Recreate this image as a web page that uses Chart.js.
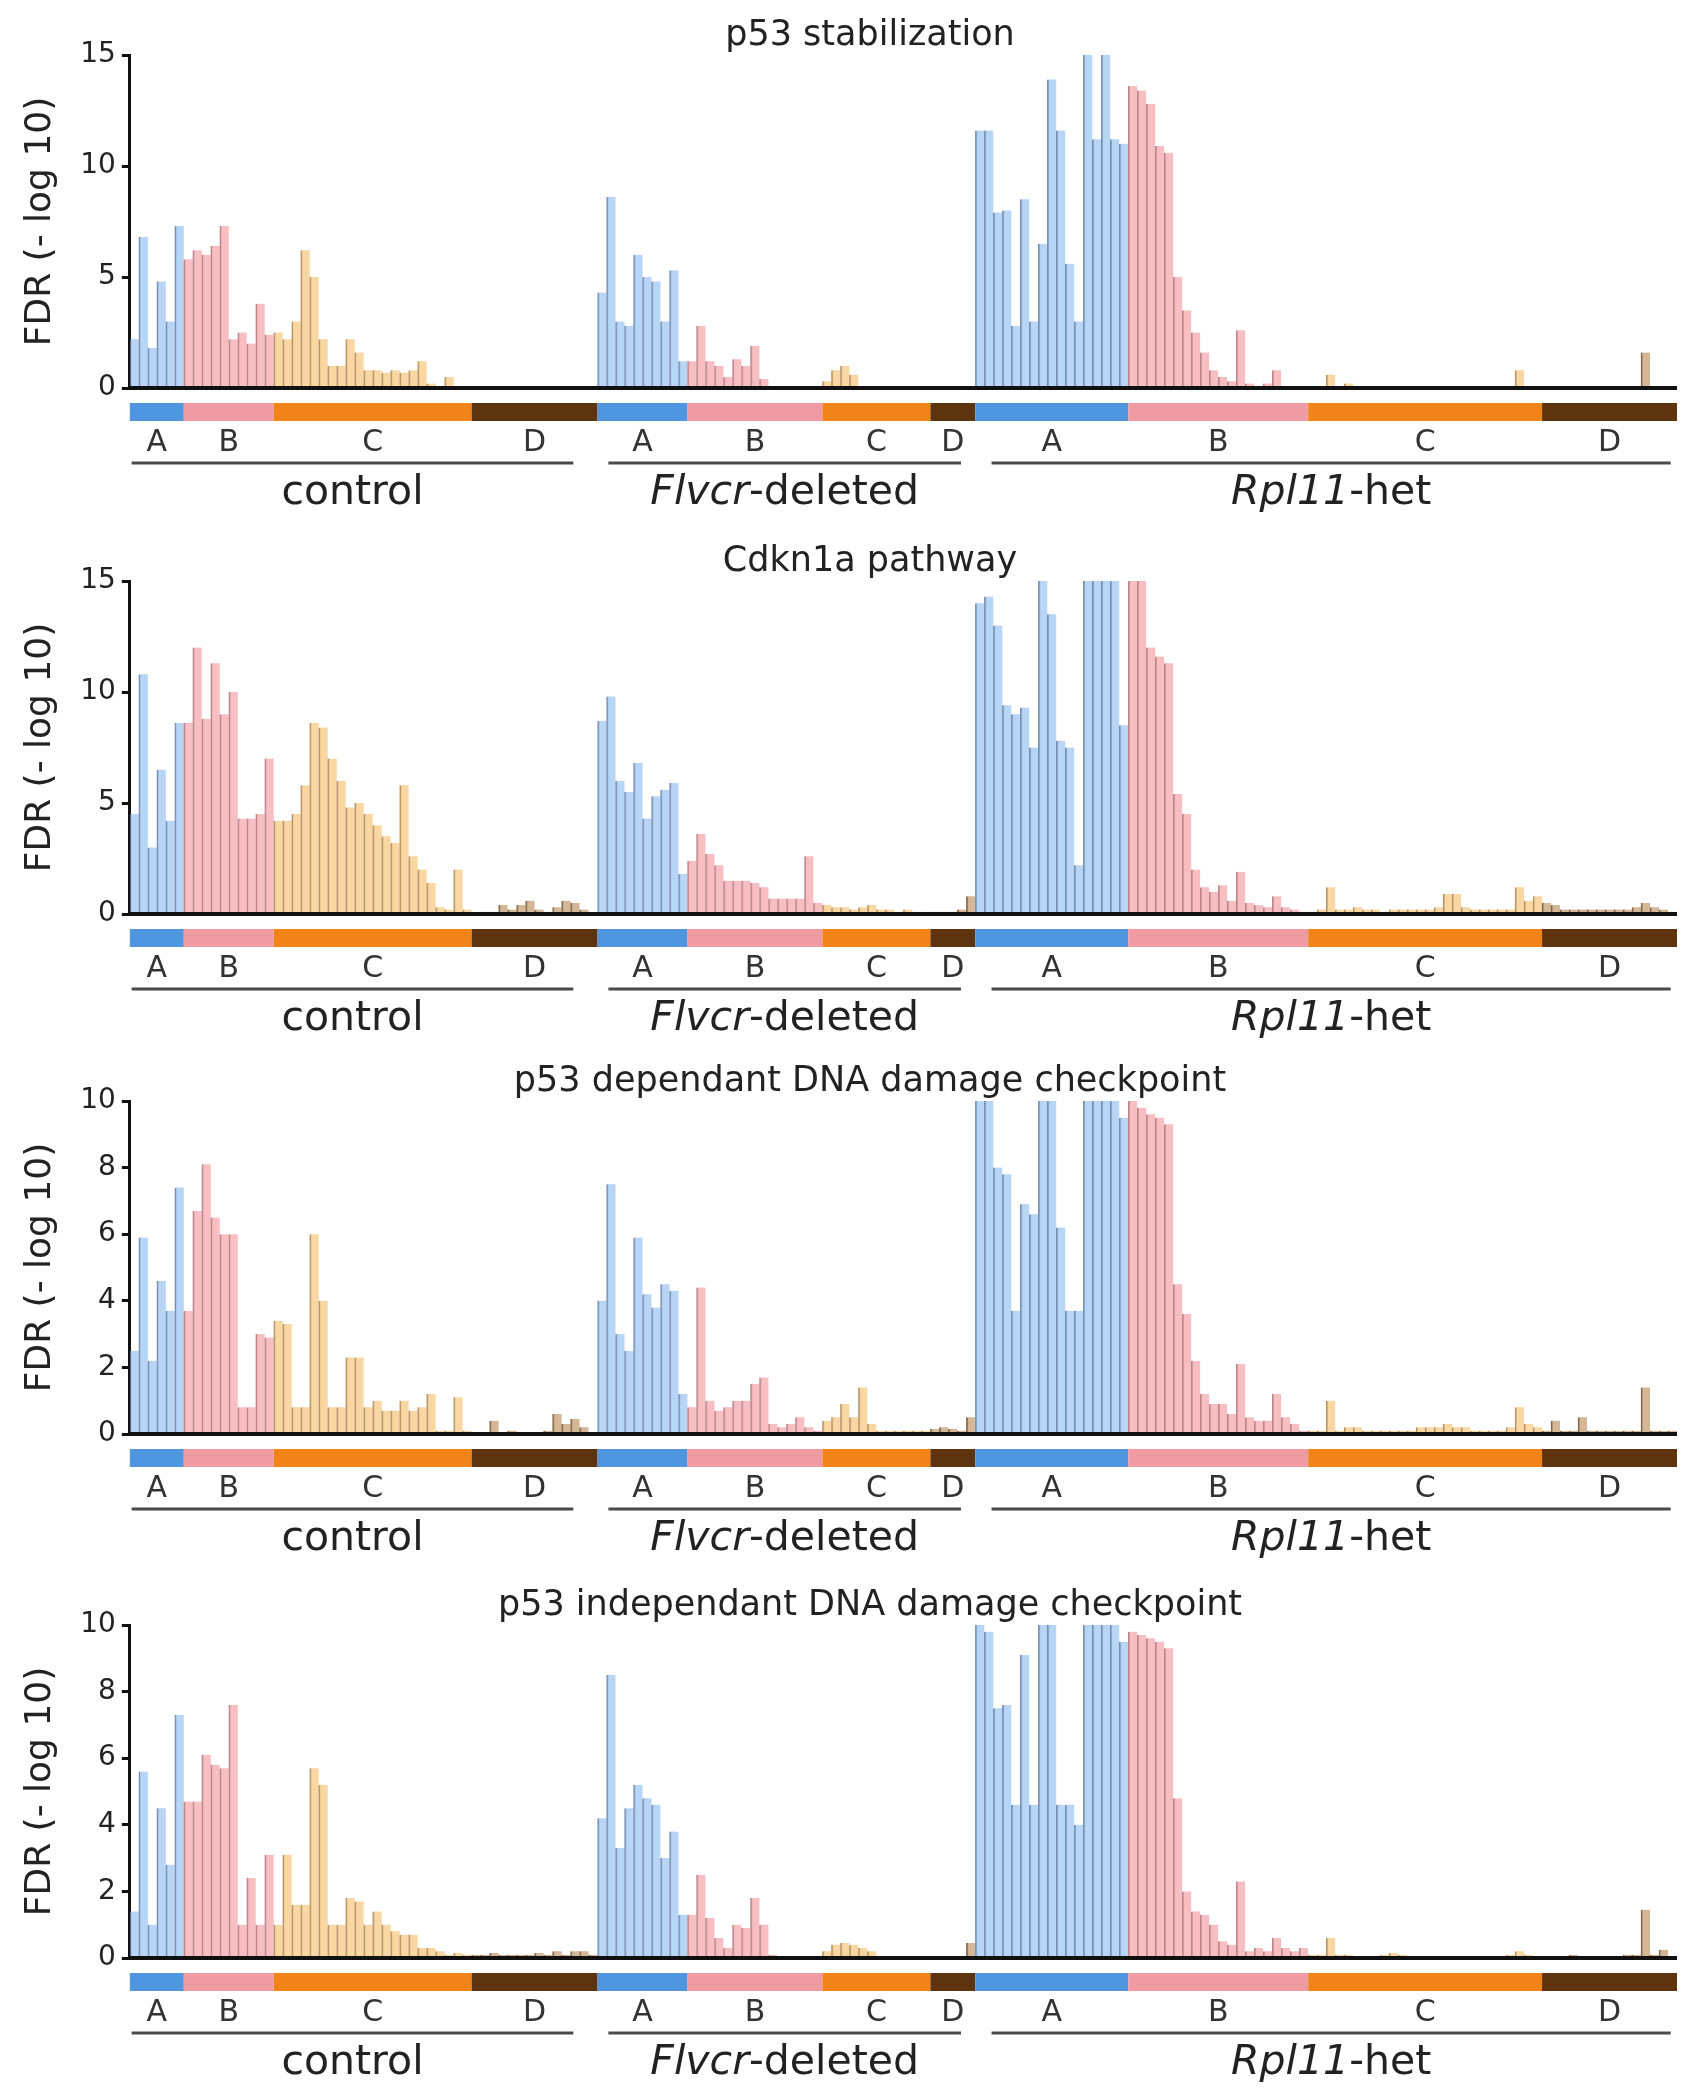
<!DOCTYPE html>
<html>
<head>
<meta charset="utf-8">
<script src="https://cdn.jsdelivr.net/npm/chart.js@4.4.1/dist/chart.umd.min.js"></script>
<style>
  body { margin: 0; background: #fff; }
  #wrap { position: relative; width: 1695px; height: 2100px; }
  canvas { position: absolute; left: 0; }
</style>
</head>
<body>
<div id="wrap">
  <canvas id="c0" width="1695" height="525" style="top:0px"></canvas>
  <canvas id="c1" width="1695" height="525" style="top:526px"></canvas>
  <canvas id="c2" width="1695" height="525" style="top:1046px"></canvas>
  <canvas id="c3" width="1695" height="525" style="top:1570px"></canvas>
</div>
<script>
// groups and conditions
const groupNames = ['A', 'B', 'C', 'D'];
const controlSizes = [6, 10, 22, 14];
const flvcrSizes = [10, 15, 12, 5];
const rplSizes = [17, 20, 26, 15];

const panelTitles = [
  'p53 stabilization',
  'Cdkn1a pathway',
  'p53 dependant DNA damage checkpoint',
  'p53 independant DNA damage checkpoint'
];
const panelMax = [15, 15, 10, 10];
const panelStep = [5, 5, 2, 2];

// p53 stabilization
const stabControl = [
  2.2, 6.8, 1.8, 4.8, 3.0, 7.3,
  5.8, 6.2, 6.0, 6.4, 7.3, 2.2, 2.5, 2.0, 3.8, 2.4,
  2.5, 2.2, 3.0, 6.2, 5.0, 2.2, 1.0, 1.0, 2.2, 1.6, 0.8, 0.8, 0.7, 0.8, 0.7, 0.8, 1.2, 0.2, 0.1, 0.5, 0.05, 0,
  0, 0, 0, 0, 0, 0, 0, 0, 0, 0, 0, 0, 0, 0
];
const stabFlvcr = [
  4.3, 8.6, 3.0, 2.8, 6.0, 5.0, 4.8, 3.0, 5.3, 1.2,
  1.2, 2.8, 1.2, 1.0, 0.5, 1.3, 1.0, 1.9, 0.4, 0, 0, 0, 0, 0, 0,
  0.3, 0.8, 1.0, 0.6, 0, 0, 0, 0, 0, 0, 0, 0,
  0, 0, 0, 0.1, 0
];
const stabRpl = [
  11.6, 11.6, 7.9, 8.0, 2.8, 8.5, 3.0, 6.5, 13.9, 11.6, 5.6, 3.0, 15.0, 11.2, 15.0, 11.2, 11.0,
  13.6, 13.4, 12.8, 10.9, 10.6, 5.0, 3.5, 2.5, 1.6, 0.8, 0.5, 0.3, 2.6, 0.2, 0.1, 0.2, 0.8, 0, 0, 0,
  0, 0, 0.6, 0, 0.2, 0, 0, 0, 0, 0, 0, 0, 0, 0, 0, 0, 0, 0, 0, 0, 0, 0, 0, 0.8, 0, 0,
  0, 0, 0, 0, 0, 0, 0, 0, 0, 0, 0, 1.6, 0, 0, 0
];

// Cdkn1a pathway
const cdknControl = [
  4.5, 10.8, 3.0, 6.5, 4.2, 8.6,
  8.6, 12.0, 8.8, 11.3, 9.0, 10.0, 4.3, 4.3, 4.5, 7.0,
  4.2, 4.2, 4.5, 5.8, 8.6, 8.4, 7.0, 6.0, 4.8, 5.0, 4.5, 4.0, 3.5, 3.2, 5.8, 2.6, 2.0, 1.4, 0.3, 0.2, 2.0, 0.2,
  0, 0.1, 0.1, 0.4, 0.2, 0.4, 0.6, 0.2, 0.1, 0.3, 0.6, 0.5, 0.2, 0
];
const cdknFlvcr = [
  8.7, 9.8, 6.0, 5.5, 6.8, 4.3, 5.3, 5.6, 5.9, 1.8,
  2.4, 3.6, 2.7, 2.2, 1.5, 1.5, 1.5, 1.4, 1.2, 0.7, 0.7, 0.7, 0.7, 2.6, 0.5,
  0.4, 0.3, 0.3, 0.2, 0.3, 0.4, 0.2, 0.2, 0.1, 0.2, 0.1, 0.1,
  0.1, 0.1, 0.1, 0.2, 0.8
];
const cdknRpl = [
  14.0, 14.3, 13.0, 9.4, 9.0, 9.3, 7.5, 15.0, 13.5, 7.8, 7.5, 2.2, 15.0, 15.0, 15.0, 15.0, 8.5,
  15.0, 15.0, 12.0, 11.6, 11.3, 5.4, 4.5, 2.0, 1.2, 1.0, 1.3, 0.6, 1.9, 0.5, 0.4, 0.3, 0.8, 0.3, 0.2, 0.1,
  0.1, 0.2, 1.2, 0.2, 0.2, 0.3, 0.2, 0.2, 0.1, 0.2, 0.2, 0.2, 0.2, 0.2, 0.3, 0.9, 0.9, 0.3, 0.2, 0.2, 0.2, 0.2, 0.2, 1.2, 0.6, 0.8,
  0.5, 0.4, 0.2, 0.2, 0.2, 0.2, 0.2, 0.2, 0.2, 0.2, 0.3, 0.5, 0.3, 0.2, 0.1
];

// p53 dependant DNA damage checkpoint
const depControl = [
  2.5, 5.9, 2.2, 4.6, 3.7, 7.4,
  3.7, 6.7, 8.1, 6.5, 6.0, 6.0, 0.8, 0.8, 3.0, 2.9,
  3.4, 3.3, 0.8, 0.8, 6.0, 4.0, 0.8, 0.8, 2.3, 2.3, 0.8, 1.0, 0.7, 0.7, 1.0, 0.7, 0.8, 1.2, 0.1, 0.1, 1.1, 0.1,
  0.05, 0.05, 0.4, 0.05, 0.1, 0.05, 0.05, 0.05, 0.1, 0.6, 0.3, 0.45, 0.2, 0.05
];
const depFlvcr = [
  4.0, 7.5, 3.0, 2.5, 5.9, 4.2, 3.8, 4.5, 4.3, 1.2,
  0.8, 4.4, 1.0, 0.7, 0.8, 1.0, 1.0, 1.5, 1.7, 0.3, 0.2, 0.3, 0.5, 0.2, 0.1,
  0.4, 0.5, 0.9, 0.5, 1.4, 0.3, 0.1, 0.1, 0.1, 0.1, 0.1, 0.1,
  0.15, 0.2, 0.15, 0.1, 0.5
];
const depRpl = [
  10, 10, 8.0, 7.8, 3.7, 6.9, 6.6, 10, 10, 6.2, 3.7, 3.7, 10, 10, 10, 10, 9.5,
  10, 9.8, 9.6, 9.5, 9.3, 4.5, 3.6, 2.2, 1.2, 0.9, 0.9, 0.6, 2.1, 0.5, 0.4, 0.4, 1.2, 0.5, 0.3, 0.1,
  0.1, 0.1, 1.0, 0.1, 0.2, 0.2, 0.1, 0.1, 0.1, 0.1, 0.1, 0.1, 0.2, 0.2, 0.2, 0.3, 0.2, 0.2, 0.1, 0.1, 0.1, 0.1, 0.2, 0.8, 0.3, 0.2,
  0.1, 0.4, 0.1, 0.1, 0.5, 0.1, 0.1, 0.1, 0.1, 0.1, 0.1, 1.4, 0.1, 0.1, 0.1
];

// p53 independant DNA damage checkpoint
const indControl = [
  1.4, 5.6, 1.0, 4.5, 2.8, 7.3,
  4.7, 4.7, 6.1, 5.8, 5.7, 7.6, 1.0, 2.4, 1.0, 3.1,
  1.0, 3.1, 1.6, 1.6, 5.7, 5.2, 1.0, 1.0, 1.8, 1.7, 1.0, 1.4, 1.0, 0.8, 0.7, 0.7, 0.3, 0.3, 0.2, 0.1, 0.15, 0.1,
  0.1, 0.1, 0.15, 0.1, 0.1, 0.1, 0.1, 0.15, 0.1, 0.2, 0.1, 0.2, 0.2, 0.1
];
const indFlvcr = [
  4.2, 8.5, 3.3, 4.5, 5.2, 4.8, 4.6, 3.0, 3.8, 1.3,
  1.3, 2.5, 1.2, 0.6, 0.3, 1.0, 0.9, 1.8, 1.0, 0.1, 0.05, 0.05, 0.05, 0.05, 0.05,
  0.2, 0.4, 0.45, 0.4, 0.3, 0.2, 0.05, 0.05, 0.05, 0.05, 0.05, 0.05,
  0.05, 0.05, 0.05, 0.05, 0.45
];
const indRpl = [
  10, 9.8, 7.5, 7.6, 4.6, 9.1, 4.6, 10, 10, 4.6, 4.6, 4.0, 10, 10, 10, 10, 9.5,
  9.8, 9.7, 9.6, 9.5, 9.3, 4.8, 2.0, 1.4, 1.3, 1.0, 0.5, 0.4, 2.3, 0.2, 0.3, 0.2, 0.6, 0.3, 0.2, 0.3,
  0.1, 0.1, 0.6, 0.1, 0.1, 0.05, 0.05, 0.05, 0.1, 0.15, 0.1, 0.05, 0.05, 0.05, 0.05, 0.05, 0.05, 0.05, 0.05, 0.05, 0.05, 0.05, 0.1, 0.2, 0.1, 0.05,
  0.05, 0.05, 0.05, 0.1, 0.05, 0.05, 0.05, 0.05, 0.05, 0.1, 0.1, 1.45, 0.1, 0.25, 0.05
];

const panelData = [
  [stabControl, stabFlvcr, stabRpl],
  [cdknControl, cdknFlvcr, cdknRpl],
  [depControl, depFlvcr, depRpl],
  [indControl, indFlvcr, indRpl]
];

// colours
const barFill = ['rgba(165,203,242,0.8)', 'rgba(246,175,180,0.8)', 'rgba(247,205,140,0.8)', 'rgba(200,165,125,0.8)'];
const barEdge = ['rgba(100,122,160,0.85)', 'rgba(170,115,122,0.85)', 'rgba(165,128,80,0.85)', 'rgba(105,75,45,0.85)'];
const stripColors = ['#4f96e0', '#f09aa4', '#f08418', '#5e3410'];
const FONT = '"DejaVu Sans", sans-serif';

// slot layout, built from the group sizes
const condSizes = [controlSizes, flvcrSizes, rplSizes];
const segments = [];
const condRanges = [];
let pos = 0;
condSizes.forEach((sizes, c) => {
    const condStart = pos;
    sizes.forEach((n, g) => {
        segments.push({ cond: c, group: g, start: pos, end: pos + n });
        pos += n;
    });
    condRanges.push([condStart, pos]);
});
const slotGroup = [];
segments.forEach(seg => {
    for (let i = seg.start; i < seg.end; i++) slotGroup.push(seg.group);
});

// underline insets in slots (left, right) and the label pieces
const underlineInset = [[0.2, 2.7], [1.2, 1.6], [1.8, 0.7]];
const condLabels = [
    [['', 'control']],
    [['italic ', 'Flvcr'], ['', '-deleted']],
    [['italic ', 'Rpl11'], ['', '-het']]
];

const decorPlugin = {
    id: 'decor',
    afterDraw(chart) {
        const { ctx, chartArea } = chart;
        const x = chart.scales.x, y = chart.scales.y;
        const zero = y.getPixelForValue(0);
        const slotW = x.getPixelForValue(1) - x.getPixelForValue(0);
        const edge = i => x.getPixelForValue(i) - slotW / 2;
        ctx.save();

        // baseline
        ctx.strokeStyle = '#111';
        ctx.lineWidth = 4;
        ctx.beginPath();
        ctx.moveTo(chartArea.left - 1.5, zero);
        ctx.lineTo(chartArea.right, zero);
        ctx.stroke();

        // colour strips and group letters
        ctx.textAlign = 'center';
        ctx.textBaseline = 'middle';
        segments.forEach(seg => {
            const x0 = edge(seg.start), x1 = edge(seg.end);
            ctx.fillStyle = stripColors[seg.group];
            ctx.fillRect(x0, zero + 15, x1 - x0, 18);
            ctx.fillStyle = '#333';
            ctx.font = '30px ' + FONT;
            ctx.fillText(groupNames[seg.group], (x0 + x1) / 2, zero + 55);
        });

        // condition underlines and labels
        condRanges.forEach((r, c) => {
            const x0 = edge(r[0]) + underlineInset[c][0] * slotW;
            const x1 = edge(r[1]) - underlineInset[c][1] * slotW;
            ctx.strokeStyle = '#4a4a4a';
            ctx.lineWidth = 3;
            ctx.beginPath();
            ctx.moveTo(x0, zero + 75);
            ctx.lineTo(x1, zero + 75);
            ctx.stroke();

            const pieces = condLabels[c];
            let total = 0;
            pieces.forEach(p => {
                ctx.font = p[0] + '41px ' + FONT;
                total += ctx.measureText(p[1]).width;
            });
            let cx = (x0 + x1) / 2 - total / 2;
            ctx.textAlign = 'left';
            ctx.fillStyle = '#222';
            pieces.forEach(p => {
                ctx.font = p[0] + '41px ' + FONT;
                ctx.fillText(p[1], cx, zero + 105);
                cx += ctx.measureText(p[1]).width;
            });
            ctx.textAlign = 'center';
        });

        // panel title
        ctx.fillStyle = '#222';
        ctx.font = '35px ' + FONT;
        ctx.fillText(chart.options.plugins.decor.title, 870, 36);
        ctx.restore();
    }
};

function makePanel(idx) {
    const values = panelData[idx].flat();
    return new Chart(document.getElementById('c' + idx), {
        type: 'bar',
        data: {
            labels: slotGroup.map((g, i) => String(i)),
            datasets: [{
                data: values,
                backgroundColor: slotGroup.map(g => barFill[g]),
                borderColor: slotGroup.map(g => barEdge[g]),
                borderWidth: { left: 1.5, top: 0, right: 0, bottom: 0 },
                barPercentage: 1,
                categoryPercentage: 1
            }]
        },
        options: {
            responsive: false,
            animation: false,
            layout: { padding: { left: 19, right: 18, top: 55, bottom: 137 } },
            plugins: {
                legend: { display: false },
                tooltip: { enabled: false },
                decor: { title: panelTitles[idx] }
            },
            scales: {
                x: { display: false },
                y: {
                    min: 0,
                    max: panelMax[idx],
                    ticks: {
                        stepSize: panelStep[idx],
                        color: '#222',
                        padding: 6,
                        font: { family: FONT, size: 28 }
                    },
                    grid: { drawOnChartArea: false, drawTicks: true, tickLength: 8, color: '#111', lineWidth: 3 },
                    border: { display: true, color: '#111', width: 3 },
                    title: {
                        display: true,
                        text: 'FDR (- log 10)',
                        color: '#222',
                        font: { family: FONT, size: 36 },
                        padding: { top: 0, bottom: 12 }
                    }
                }
            }
        },
        plugins: [decorPlugin]
    });
}

document.addEventListener('DOMContentLoaded', function() {
    for (let i = 0; i < 4; i++) makePanel(i);
});
</script>
</body>
</html>
